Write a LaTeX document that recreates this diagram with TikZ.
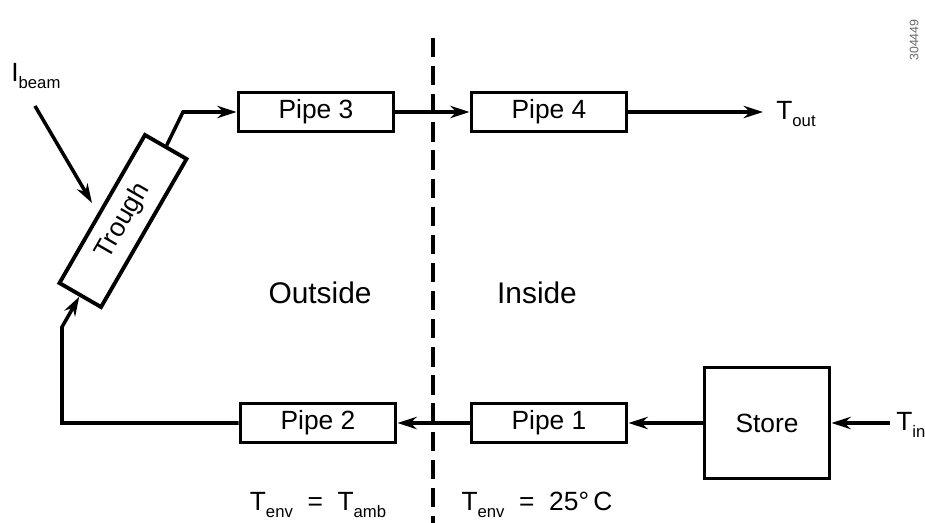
\documentclass[tikz,border=0pt]{standalone}
\usepackage{fontspec}
\setmainfont{Liberation Sans}
\usetikzlibrary{arrows.meta}
\newcommand{\lo}[1]{\raisebox{-.45ex}{\fontsize{9.5}{10}\selectfont #1}}
\tikzset{>={Stealth[length=11pt,width=7pt]},every node/.style={font=\fontsize{15}{17}\selectfont},flow/.style={line width=2pt,->},pipebox/.style={draw,line width=2.2pt,minimum width=3.1cm,minimum height=.78cm,inner sep=0pt}}
\tikzset{wall/.style={line width=2pt,dash pattern=on 11pt off 5pt},side/.style={font=\fontsize{17}{19}\selectfont}}

\begin{document}
\begin{tikzpicture}[x=.02cm,y=-.02cm]
\useasboundingbox (0,0) rectangle (925,523);
% cote exterieur / interieur
\draw[wall] (433,38)--(433,523);
\node (pipe3) [pipebox] at (316,112){Pipe 3};\node (pipe4) [pipebox] at (549,112){Pipe 4};
\node (pipe2) [pipebox] at (318,423){Pipe 2};\node (pipe1) [pipebox] at (549,423){Pipe 1};
\node (store) [draw,line width=2.2pt,minimum width=2.5cm,minimum height=2.22cm] at (767,423){Store};
\node (trough) [pipebox,rotate=60,minimum width=3.42cm,minimum height=.96cm] at (123,221){Trough};
\node (tout) [anchor=west,inner sep=0pt] at (776,114){T\lo{out}};
\node (tin) [anchor=west,inner sep=0pt] at (896,425){T\lo{in}};
\node (ibeam) [anchor=west,inner sep=0pt] at (11,76){I\lo{beam}};
\coordinate (beamtail) at (35,106);\coordinate (bend1) at (62,327);\coordinate (bend2) at (183,112);
\coordinate (outend) at (763,112);\coordinate (instart) at (890,423);
\draw[flow] (beamtail)--(92,203);
\draw[flow] (pipe2.west)-|(bend1)--(trough.west);\draw[flow] (trough.east)--(bend2)--(pipe3.west);
\draw[flow] (pipe3.east)--(pipe4.west);\draw[flow] (pipe4.east)--(outend);
\draw[flow] (instart)--(store.east);\draw[flow] (store.west)--(pipe1.east);\draw[flow] (pipe1.west)--(pipe2.east);
\node (outside) [side] at (320,293){Outside};\node (inside) [side] at (537,293){Inside};
\node (envout) at (318,505){T\lo{env}\ \ =\ \ T\lo{amb}};
\node (envin) at (537,505){T\lo{env}\ \ =\ \ 25°\,C};
\node (fignum) [rotate=90,font=\fontsize{7}{8}\selectfont,text=black!60] at (914,40){304449};
\end{tikzpicture}
\end{document}
